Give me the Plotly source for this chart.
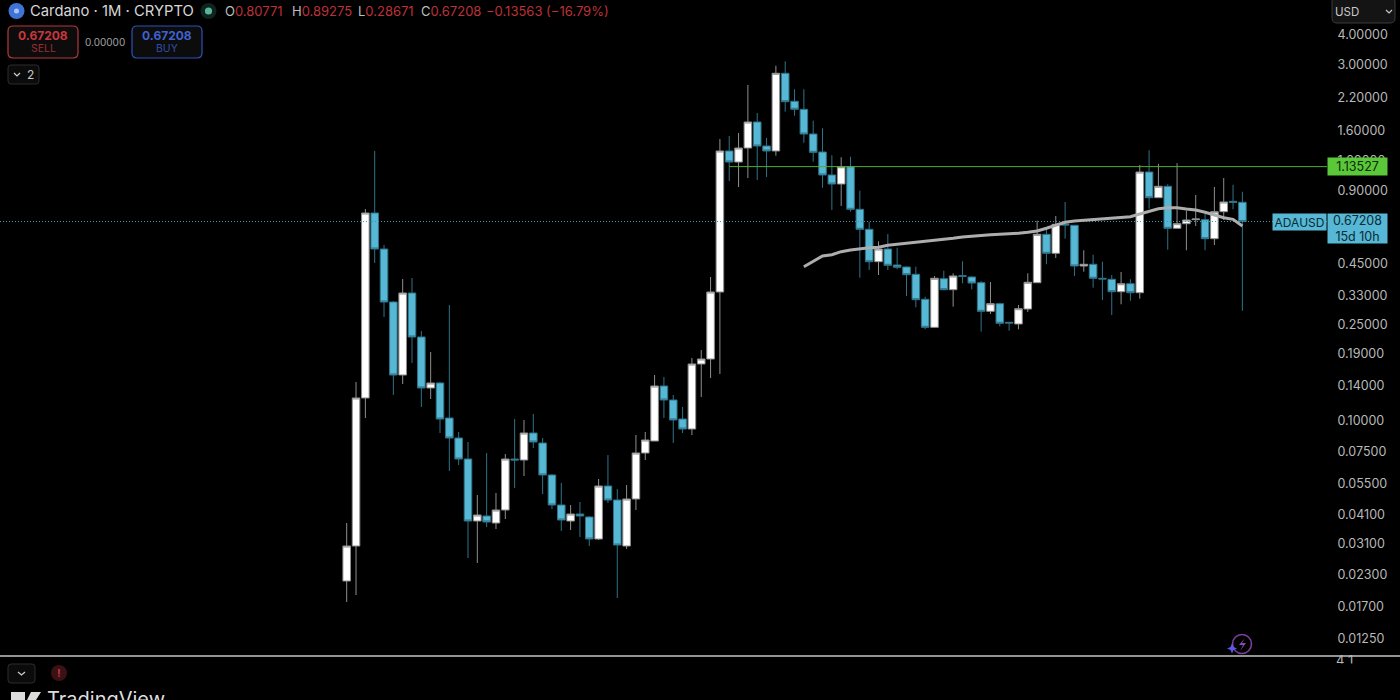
import plotly.graph_objects as go

opens=[0.02173,0.03035,0.1247,0.7291,0.517,0.3117,0.1553,0.3397,0.2232,0.1372,0.1439,0.103,0.0851,0.06964,0.03853,0.04042,0.0378,0.0428,0.06964,0.06898,
0.08926,0.08113,0.05978,0.04489,0.03853,0.04119,0.04003,0.03245,0.05382,0.04709,0.03035,0.04754,0.07375,0.0827,
0.1398,0.1223,0.102,0.09274,0.1725,0.1809,0.343,1.318,1.186,1.356,1.738,1.382,1.318,2.767,2.118,1.962,1.55,1.305,1.048,0.9616,1.134,0.7553,0.624,0.458,0.517,0.4438,0.4354,0.4061,0.3199,0.2448,0.3894,0.3506,0.4007,0.3958,
0.3748,0.2852,0.3067,0.2568,0.2527,0.2916,0.3748,0.5949,0.4962,0.6564,0.6483,0.4396,0.4468,0.3909,0.3872,0.3439,0.3712,0.3407,1.078,0.8437,0.9407,0.63,0.6583,0.6839,0.6839,0.5705,0.7382,0.8152,0.80771]
highs=[0.0378,0.1452,0.7574,1.318,0.5372,0.3147,0.3883,0.392,0.2363,0.1934,0.1452,0.3029,0.09012,0.08191,0.04939,0.07375,0.05034,0.07305,0.102,0.1011,
0.107,0.0851,0.06035,0.05538,0.04489,0.04619,0.04042,0.05754,0.07235,0.0523,0.05433,0.08757,0.09012,0.1553,
0.1523,0.1283,0.1144,0.1826,0.1971,0.3958,1.478,1.521,1.565,2.474,1.894,1.492,2.975,3.102,2.375,2.375,1.76,1.637,1.265,1.241,1.248,0.902,0.671,0.5565,0.5966,0.5235,0.4375,0.4366,0.3279,0.3996,0.4203,0.41,0.4597,0.3977,
0.3809,0.3773,0.3097,0.2576,0.3029,0.41,0.6774,0.636,0.7085,0.8098,0.6502,0.5107,0.4896,0.458,0.4034,0.4151,0.3872,1.153,1.327,1.167,0.9589,1.172,0.7453,0.8658,0.7221,0.9345,1.018,0.9552,0.89275]
lows=[0.01778,0.01901,0.103,0.4523,0.2701,0.1283,0.1425,0.1741,0.1144,0.1235,0.08926,0.0621,0.06576,0.02707,0.0258,0.03639,0.0357,0.03927,0.0528,0.05921,
0.07735,0.04986,0.04321,0.03502,0.03536,0.03307,0.03035,0.03214,0.04576,0.01847,0.02949,0.0428,0.06898,0.0827,
0.103,0.08113,0.08926,0.08757,0.1259,0.1509,0.1568,0.9896,0.9345,1.018,0.999,1.028,1.26,1.918,1.846,1.426,1.19,0.9282,0.7503,0.7795,0.7382,0.3931,0.4231,0.4034,0.4231,0.4259,0.3301,0.2964,0.2402,0.2444,0.3486,0.2981,0.3727,0.3519,
0.2348,0.278,0.2472,0.237,0.2402,0.2833,0.3737,0.4468,0.4745,0.5705,0.3996,0.4163,0.3573,0.3177,0.2753,0.305,0.3156,0.3217,0.7596,0.8413,0.5136,0.6288,0.5107,0.644,0.5107,0.5372,0.6819,0.7553,0.28671]
closes=[0.03035,0.1247,0.7291,0.517,0.3117,0.1553,0.3397,0.2232,0.1372,0.1439,0.102,0.0851,0.06964,0.03853,0.0408,0.03817,0.0428,0.06964,0.06898,0.08926,
0.08191,0.05978,0.04489,0.0389,0.04119,0.04042,0.03245,0.05382,0.04709,0.03064,0.04754,0.07375,0.08349,0.1398,
0.1223,0.1011,0.09274,0.1725,0.1809,0.343,1.318,1.186,1.356,1.738,1.382,1.318,2.767,2.11,1.962,1.55,1.301,1.048,0.9616,1.134,0.7553,0.624,0.458,0.517,0.4425,0.4342,0.4045,0.3187,0.2448,0.3909,0.3506,0.3996,0.3984,0.3737,
0.2852,0.3067,0.2544,0.2551,0.2924,0.3762,0.5949,0.4962,0.6545,0.6502,0.4396,0.4468,0.3909,0.3883,0.3439,0.3712,0.3407,1.078,0.8437,0.9407,0.63,0.6583,0.6819,0.6885,0.5705,0.7382,0.8098,0.8075,0.67208]
bar_index=list(range(len(opens)))

ma_start=49
ma_values=[0.4366,0.458,0.4836,0.4896,0.5039,0.5121,0.5185,0.5235,0.5255,0.5356,0.5408,0.5459,0.5491,0.5528,0.5581,0.565,0.5726,0.5798,0.5853,0.591,0.5927,0.5949,0.5966,0.6006,0.6064,0.614,0.63,0.6502,0.6671,0.6755,0.68,0.6839,0.6885,0.6905,0.6971,0.7038,0.7221,0.7431,0.7596,0.7669,0.7669,0.7574,0.7503,0.734,0.7173,0.6971,0.6865,0.644]
ma_index=[ma_start+i for i in range(len(ma_values))]

level_price=1.13527
level_start=41
last_price=0.67208
tick_values=[4,3,2.2,1.6,1.2,0.9,0.45,0.33,0.25,0.19,0.14,0.1,0.075,0.055,0.041,0.031,0.023,0.017,0.0125]
tick_labels=["%.5f"%v for v in tick_values]

W,H=1400,700
PLOT_R=1327; PLOT_B=656
X0,DX=346.7,9.33
x_lo=-X0/DX; x_hi=(PLOT_R-X0)/DX
PPD=241.2; Y_ONE=179.9
y_hi=Y_ONE/PPD; y_lo=(Y_ONE-PLOT_B)/PPD
def px(x): return x/W
def py(y): return 1-y/H

UI="Inter"
BLUE="#56b8d4"; BLUE_EDGE="#2f7389"; GRAY_EDGE="#8f8f8f"; GREEN="#4fae2c"
fig=go.Figure()
fig.add_trace(go.Scatter(x=[level_start,x_hi],y=[level_price,level_price],mode="lines",line=dict(color=GREEN,width=1),hoverinfo="skip"))
fig.add_trace(go.Scatter(x=[x_lo,x_hi],y=[last_price,last_price],mode="lines",line=dict(color="#3a9ab5",width=1,dash="1px,2px"),hoverinfo="skip"))
fig.add_trace(go.Candlestick(x=bar_index,open=opens,high=highs,low=lows,close=closes,whiskerwidth=0,
    increasing=dict(line=dict(color=GRAY_EDGE,width=1),fillcolor="#ffffff"),
    decreasing=dict(line=dict(color=BLUE_EDGE,width=1),fillcolor=BLUE)))
fig.add_trace(go.Scatter(x=ma_index,y=ma_values,mode="lines",line=dict(color="#adadad",width=3,shape="linear"),hoverinfo="skip"))

shapes=[]
def rrect(x0,y0,x1,y1,r,line,fill="rgba(0,0,0,0)",w=1):
    p=(f"M{px(x0+r)},{py(y0)} L{px(x1-r)},{py(y0)} Q{px(x1)},{py(y0)} {px(x1)},{py(y0+r)} "
       f"L{px(x1)},{py(y1-r)} Q{px(x1)},{py(y1)} {px(x1-r)},{py(y1)} L{px(x0+r)},{py(y1)} "
       f"Q{px(x0)},{py(y1)} {px(x0)},{py(y1-r)} L{px(x0)},{py(y0+r)} Q{px(x0)},{py(y0)} {px(x0+r)},{py(y0)} Z")
    shapes.append(dict(type="path",path=p,xref="paper",yref="paper",line=dict(color=line,width=w),fillcolor=fill,layer="above"))
def circle(cx,cy,r,fill,line="rgba(0,0,0,0)",w=0):
    shapes.append(dict(type="circle",xref="paper",yref="paper",x0=px(cx-r),x1=px(cx+r),y0=py(cy+r),y1=py(cy-r),fillcolor=fill,line=dict(color=line,width=w),layer="above"))
def poly(pts,color,fill="rgba(0,0,0,0)",w=1):
    p="M"+" L".join(f"{px(a)},{py(b)}" for a,b in pts)
    if fill!="rgba(0,0,0,0)": p+=" Z"
    shapes.append(dict(type="path",path=p,xref="paper",yref="paper",line=dict(color=color,width=w),fillcolor=fill,layer="above"))

shapes.append(dict(type="line",xref="paper",yref="paper",x0=0,x1=1,y0=py(656),y1=py(656),line=dict(color="#c4c4c4",width=1.5),layer="above"))
circle(16.5,11,8,"#3f73d8")
circle(16.5,11,2.5,"#a9c4f5")
circle(208.5,11,8,"#10241f")
circle(208.5,11,3.6,"#59b59a")
rrect(8,26,78,58,5,"#b23a3f",fill="#0c0c0c",w=1.2)
rrect(132,26,202,58,5,"#2f52b8",fill="#0c0c0c",w=1.2)
rrect(8,65,39,84,3,"#2c2c2c",fill="#0b0b0b")
poly([(14,73),(17,76),(20,73)],"#d0d0d0",w=1.2)
rrect(1332,-3,1395,23,5,"#3a3a3a",fill="#141414")
poly([(1386,10),(1389,13),(1392,10)],"#c8c8c8",w=1.2)
rrect(8,664,35,683,3,"#2c2c2c",fill="#0b0b0b")
poly([(18,672),(21.5,675),(25,672)],"#d0d0d0",w=1.2)
circle(59,673,8,"#3a1215")
poly([(11,692),(25,692),(25,700),(18,700),(11,700)],"#dcdcdc",fill="#dcdcdc",w=0)
poly([(31,692),(41,692),(36,700),(27,700)],"#dcdcdc",fill="#dcdcdc",w=0)
circle(1242,644,9.5,"rgba(0,0,0,0)",line="#7a3f9e",w=1.6)
poly([(1245,638),(1239,645),(1243,645),(1240,651),(1246,643),(1242,643)],"#8a4aae",fill="#8a4aae",w=0)
poly([(1232,643.5),(1233.5,647),(1237,648.5),(1233.5,650),(1232,653.5),(1230.5,650),(1227,648.5),(1230.5,647)],"#5b58e8",fill="#5b58e8",w=0)

ann=[]
def text(x,y,s,size=13,color="#c8c8c8",xa="left",ya="middle",family=UI):
    ann.append(dict(x=px(x),y=py(y),xref="paper",yref="paper",xanchor=xa,yanchor=ya,text=s,showarrow=False,
                    font=dict(family=family,size=size,color=color),borderpad=0,borderwidth=0))
def tag(cx,cy,w,h,s,size,color,bg):
    ann.append(dict(x=px(cx),y=py(cy),xref="paper",yref="paper",xanchor="center",yanchor="middle",text=s,showarrow=False,
                    font=dict(family=UI,size=size,color=color),bgcolor=bg,width=w,height=h,borderpad=0,align="center"))
text(30,11,"Cardano · 1M · CRYPTO",size=14.8,color="#d6d6d6")
RED="#bd3238"
def ohlc(lbl,v): return f'<span style="color:#bdbdbd">{lbl}</span>{v}'
text(225,11,ohlc("O","0.80771"),size=13,color=RED)
text(292,11,ohlc("H","0.89275"),size=13,color=RED)
text(358,11,ohlc("L","0.28671"),size=13,color=RED)
text(421,11,ohlc("C","0.67208"),size=13,color=RED)
text(486,11,"−0.13563 (−16.79%)",size=13,color=RED)
text(43,35,"<b>0.67208</b>",size=12,color="#c9373d",xa="center")
text(43,48.5,"SELL",size=10.5,color="#9a2e33",xa="center")
text(105,42,"0.00000",size=10,color="#a0a0a0",xa="center")
text(167,35,"<b>0.67208</b>",size=12,color="#3f62d0",xa="center")
text(167,48.5,"BUY",size=10.5,color="#2f4ca6",xa="center")
text(27,75,"2",size=12,color="#c8c8c8")
text(1335,11.5,"USD",size=11.5,color="#c8c8c8")
tag(1357.5,166.6,59,17,"1.13527",12.5,"#0b2a06","#5bc83a")
tag(1299.5,221.5,53,16,"ADAUSD",12,"#0a2a36",BLUE)
tag(1357.5,228,59,29,"0.67208<br>15d 10h",12.5,"#0a2a36",BLUE)
text(59,673,"<b>!</b>",size=11,color="#c5333a",xa="center")
text(1336,660,"4 1",size=13,color="#b8b8b8")
ann.append(dict(x=px(1330),y=py(662.5),xref="paper",yref="paper",xanchor="left",yanchor="top",text=" ",showarrow=False,bgcolor="#000000",width=40,height=16))
text(47,698.5,"TradingView",size=20,color="#dedede")

fig.update_layout(width=W,height=H,margin=dict(l=0,r=0,t=0,b=0,pad=0),paper_bgcolor="#000000",plot_bgcolor="#000000",
    showlegend=False,boxgap=0.1,boxgroupgap=0.1,shapes=shapes,annotations=ann,dragmode=False,
    xaxis=dict(range=[x_lo,x_hi],domain=[0,PLOT_R/W],visible=False,rangeslider=dict(visible=False),showgrid=False,zeroline=False),
    yaxis=dict(type="log",range=[y_lo,y_hi],domain=[1-PLOT_B/H,1],side="right",tickmode="array",tickvals=tick_values,ticktext=tick_labels,
               tickfont=dict(family=UI,size=12.5,color="#b8b8b8"),ticks="outside",ticklen=7,tickcolor="rgba(0,0,0,0)",showgrid=False,zeroline=False,showline=False))
fig.write_html("out.html",config={"displayModeBar":False},
    post_script="document.body.style.margin='0';document.body.style.background='#000';document.body.style.overflow='hidden';")
